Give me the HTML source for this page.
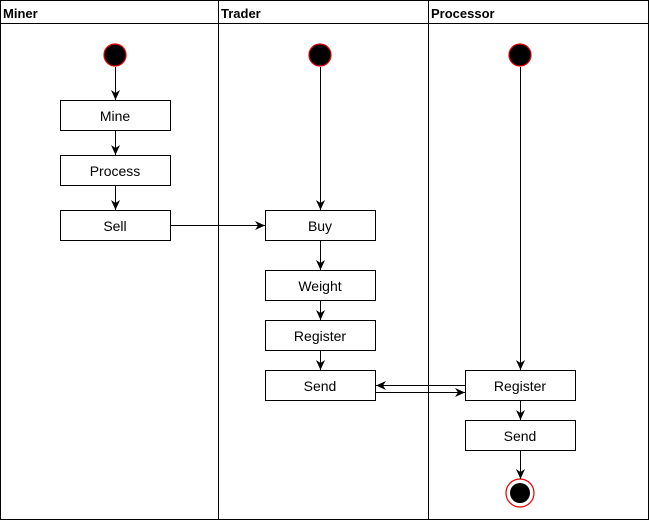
<!DOCTYPE html>
<html><head><style>body{margin:0;background:#fff}svg{display:block}</style></head><body>
<svg width="650" height="521" viewBox="0 0 650 521" xmlns="http://www.w3.org/2000/svg" font-family="Liberation Sans, sans-serif">
<defs><marker id="a" markerWidth="12" markerHeight="12" refX="10" refY="6" orient="auto" markerUnits="userSpaceOnUse"><path d="M0,1.5 L10,6 L0,10.5 L3,6 Z" fill="#000"/></marker></defs>
<g fill="none" stroke="#000" stroke-width="1">
<rect x="0.5" y="0.5" width="648" height="519"/>
<line x1="0" y1="23.5" x2="649" y2="23.5"/>
<line x1="218.5" y1="0" x2="218.5" y2="520"/>
<line x1="428.5" y1="0" x2="428.5" y2="520"/>
</g>
<g font-size="13" font-weight="bold"><text x="3" y="18">Miner</text><text x="221" y="18">Trader</text><text x="431" y="18">Processor</text></g>
<g fill="#000" stroke="#e00000" stroke-width="1.2"><circle cx="115" cy="55" r="11"/><circle cx="320" cy="55" r="11"/><circle cx="520" cy="55" r="11"/></g>
<circle cx="520" cy="493" r="14" fill="#fff" stroke="#e00000" stroke-width="1.2"/><circle cx="520" cy="493" r="10" fill="#000"/>
<g fill="#fff" stroke="#000">
<rect x="60.5" y="100.5" width="110" height="30"/><rect x="60.5" y="155.5" width="110" height="30"/><rect x="60.5" y="210.5" width="110" height="30"/>
<rect x="265.5" y="210.5" width="110" height="30"/><rect x="265.5" y="270.5" width="110" height="30"/><rect x="265.5" y="320.5" width="110" height="30"/><rect x="265.5" y="370.5" width="110" height="30"/>
<rect x="465.5" y="370.5" width="110" height="30"/><rect x="465.5" y="420.5" width="110" height="30"/>
</g>
<g font-size="14" text-anchor="middle">
<text x="115" y="121">Mine</text><text x="115" y="176">Process</text><text x="115" y="231">Sell</text>
<text x="320" y="231">Buy</text><text x="320" y="291">Weight</text><text x="320" y="341">Register</text><text x="320" y="391">Send</text>
<text x="520" y="391">Register</text><text x="520" y="441">Send</text>
</g>
<g stroke="#000" marker-end="url(#a)">
<line x1="115.5" y1="67" x2="115.5" y2="100"/><line x1="115.5" y1="131" x2="115.5" y2="155"/><line x1="115.5" y1="186" x2="115.5" y2="210"/>
<line x1="171" y1="225.5" x2="265" y2="225.5"/>
<line x1="320.5" y1="67" x2="320.5" y2="210"/><line x1="320.5" y1="241" x2="320.5" y2="270"/><line x1="320.5" y1="301" x2="320.5" y2="320"/><line x1="320.5" y1="351" x2="320.5" y2="370"/>
<line x1="520.5" y1="67" x2="520.5" y2="370"/><line x1="520.5" y1="401" x2="520.5" y2="420"/><line x1="520.5" y1="451" x2="520.5" y2="479"/>
<line x1="465" y1="385.5" x2="376" y2="385.5"/><line x1="376" y1="392.5" x2="465" y2="392.5"/>
</g>
</svg>
</body></html>
